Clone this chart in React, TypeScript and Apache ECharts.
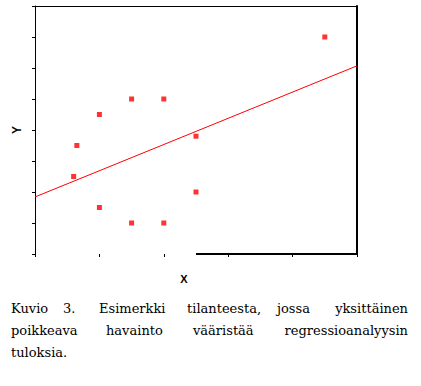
import React, { useEffect, useRef } from "react";
import * as echarts from "echarts";

const pointsX = [1.2, 1.3, 2, 2, 3, 3, 4, 4, 5, 5, 9];
const pointsY = [2.5, 3.5, 4.5, 1.5, 5, 1, 5, 1, 3.8, 2, 7];
const fitX = [0, 10];
const fitY = [1.84, 6.07];
const baseSegX = [5, 10];
const xName = "X";
const yName = "Y";
const captionLine1 = ["Kuvio", "3.", "Esimerkki", "tilanteesta,", "jossa", "yksittäinen"];
const captionLine2 = ["poikkeava", "havainto", "vääristää", "regressioanalyysin"];
const captionLine3 = ["tuloksia."];

const line1X = [11, 63, 99, 187, 277];
const line2X = [11, 106, 193];
const RIGHT_EDGE = 408;

function wordElements(words: string[], starts: number[], y: number, justified: boolean) {
  return words.map((w, i) => {
    const last = justified && i === words.length - 1;
    return {
      type: "text",
      x: last ? RIGHT_EDGE : starts[i],
      y,
      style: {
        text: w,
        fill: "#000",
        fontFamily: "'DejaVu Serif', 'Liberation Serif', serif",
        fontSize: 13,
        align: last ? "right" : "left",
        verticalAlign: "middle",
      },
    };
  });
}

export default function App() {
  const ref = useRef<HTMLDivElement>(null);
  useEffect(() => {
    document.body.style.margin = "0";
    const chart = echarts.init(ref.current!, null, { renderer: "svg" });
    const scatterData = pointsX.map((x, i) => [x, pointsY[i]]);
    const fitData = fitX.map((x, i) => [x, fitY[i]]);
    const border = { show: true, onZero: false, lineStyle: { color: "#000", width: 1 } };
    chart.setOption({
      animation: false,
      backgroundColor: "#fff",
      grid: { left: 35, top: 6, width: 322, height: 248, containLabel: false },
      xAxis: [
        {
          type: "value",
          min: 0,
          max: 10,
          interval: 2,
          name: xName,
          nameLocation: "middle",
          nameGap: 19,
          nameTextStyle: {
            fontFamily: "'Liberation Sans', Arial, sans-serif",
            fontWeight: "bold",
            fontSize: 11,
            color: "#000",
            padding: [0, 24, 0, 0],
          },
          axisLine: { show: false, onZero: false },
          axisTick: { show: true, length: 3, lineStyle: { color: "#000", width: 1 } },
          axisLabel: { show: false },
          splitLine: { show: false },
        },
        {
          type: "value",
          position: "top",
          min: 0,
          max: 10,
          interval: 2,
          axisLine: border,
          axisTick: { show: false },
          axisLabel: { show: false },
          splitLine: { show: false },
        },
      ],
      yAxis: [
        {
          type: "value",
          min: 0,
          max: 8,
          interval: 1,
          name: yName,
          nameLocation: "middle",
          nameRotate: 90,
          nameGap: 12,
          nameTextStyle: {
            fontFamily: "'Liberation Sans', Arial, sans-serif",
            fontWeight: "bold",
            fontSize: 12,
            color: "#000",
          },
          axisLine: border,
          axisTick: { show: true, length: 3, lineStyle: { color: "#000", width: 1 } },
          axisLabel: { show: false },
          splitLine: { show: false },
        },
        {
          type: "value",
          position: "right",
          min: 0,
          max: 8,
          interval: 1,
          axisLine: { show: true, onZero: false, lineStyle: { color: "#000", width: 2 } },
          axisTick: { show: false },
          axisLabel: { show: false },
          splitLine: { show: false },
        },
      ],
      series: [
        {
          type: "line",
          data: fitData,
          showSymbol: false,
          symbol: "none",
          lineStyle: { color: "#ff0000", width: 1 },
          silent: true,
          markLine: {
            silent: true,
            symbol: ["none", "none"],
            label: { show: false },
            lineStyle: { color: "#000", width: 2, type: "solid" },
            data: [[{ coord: [baseSegX[0], 0] }, { coord: [baseSegX[1], 0] }]],
          },
        },
        {
          type: "scatter",
          data: scatterData,
          symbol: "rect",
          symbolSize: 5,
          itemStyle: { color: "#ff0000" },
        },
      ],
      graphic: [
        ...wordElements(captionLine1, line1X, 308.5, true),
        ...wordElements(captionLine2, line2X, 330.5, true),
        ...wordElements(captionLine3, [11], 352.5, false),
      ],
    });
    return () => chart.dispose();
  }, []);
  return <div ref={ref} style={{ width: 421, height: 386 }} />;
}
